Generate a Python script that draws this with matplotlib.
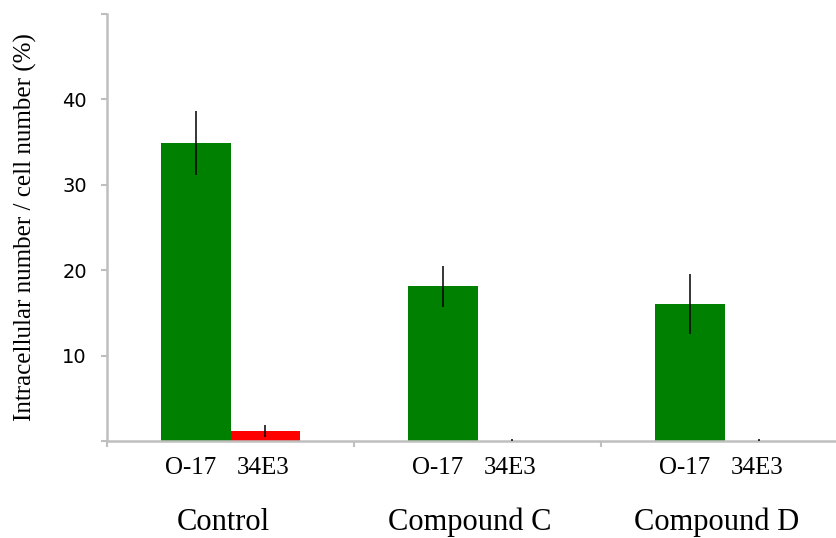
import matplotlib
matplotlib.use("Agg")
import matplotlib.pyplot as plt
import numpy as np

groups = ["Control", "Compound C", "Compound D"]
series = ["O-17", "34E3"]
o17_vals = [34.9, 18.1, 16.0]
o17_err = [3.7, 2.45, 3.5]
e34_vals = [1.15, 0.0, 0.0]
e34_err = [0.7, 0.25, 0.25]
yticks = [10, 20, 30, 40]

serif = ["Liberation Serif", "DejaVu Serif"]
fig = plt.figure(figsize=(8.37, 5.38), dpi=100)
ax = fig.add_axes([107/837, 97/538, (848-107)/837, (441-14)/538])

x = np.arange(len(groups))
w = 0.283
gray = "#bfbfbf"
ax.bar(x - w/2, o17_vals, w, color="#008000", zorder=2)
ax.bar(x + w/2, e34_vals, w, color="#ff0000", zorder=2)
ax.errorbar(x - w/2, o17_vals, yerr=o17_err, fmt="none", ecolor="black",
            elinewidth=1.1, capsize=0, zorder=3)
ax.errorbar(x + w/2, e34_vals, yerr=e34_err, fmt="none", ecolor="black",
            elinewidth=1.1, capsize=0, zorder=3)

ax.set_xlim(-0.5, 2.5)
ax.set_ylim(0, 50)
ax.set_xticks([-0.5, 0.5, 1.5, 2.5])
ax.set_xticklabels([])
ax.set_yticks([0] + yticks + [50])
ax.set_yticklabels([""] + [str(v) for v in yticks] + [""], fontsize=14,
                   family=["DejaVu Sans"])
ax.tick_params(axis="both", direction="out", length=4, width=1.5, color=gray)
ax.tick_params(axis="y", pad=10.5)
for s in ["top", "right"]:
    ax.spines[s].set_visible(False)
for s in ["left", "bottom"]:
    ax.spines[s].set_color(gray)
    ax.spines[s].set_linewidth(1.8)

trans = ax.get_xaxis_transform()
for i, g in enumerate(groups):
    ax.text(i - w/2 - 0.02, -0.063, series[0], transform=trans, ha="center",
            va="center", fontsize=18, family=serif)
    ax.text(i + w/2 - 0.01, -0.063, series[1], transform=trans, ha="center",
            va="center", fontsize=18, family=serif)
    ax.text(i - 0.03, -0.19, g, transform=trans, ha="center", va="center",
            fontsize=22, family=serif)

fig.text(25/837, (538-227)/538, "Intracellular number / cell number (%)",
         rotation=90, ha="center", va="center", fontsize=18, family=serif)

fig.savefig("out.png", dpi=100)
